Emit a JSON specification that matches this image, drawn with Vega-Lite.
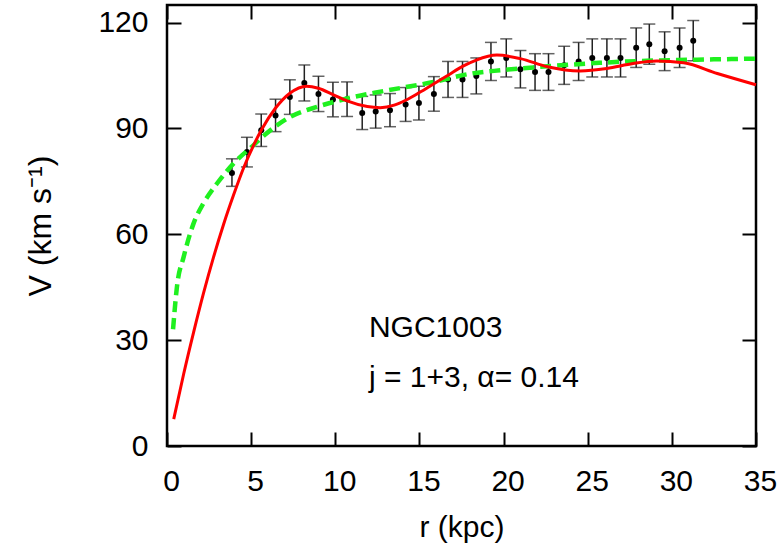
{
  "$schema": "https://vega.github.io/schema/vega-lite/v6.json",
  "width": 589,
  "height": 441,
  "autosize": {"type": "none"},
  "padding": {"left": 167, "top": 5, "right": 26, "bottom": 104},
  "background": "white",
  "config": {
    "view": {"stroke": "black", "strokeWidth": 2.5},
    "font": "Liberation Sans",
    "axis": {
      "grid": false,
      "domain": false,
      "tickColor": "black",
      "tickWidth": 2,
      "tickSize": -14,
      "labelFlush": false,
      "labelFont": "Liberation Sans",
      "labelFontSize": 30,
      "labelColor": "black",
      "titleFont": "Liberation Sans",
      "titleFontSize": 30,
      "titleFontWeight": "normal",
      "titleColor": "black"
    }
  },
  "datasets": {
    "obs": [
      {"r": 3.86, "v": 77.4, "lo": 73.6, "hi": 81.4},
      {"r": 4.75, "v": 83.3, "lo": 79.1, "hi": 87.5},
      {"r": 5.6, "v": 89.5, "lo": 84.9, "hi": 94.1},
      {"r": 6.45, "v": 93.7, "lo": 89.1, "hi": 98.3},
      {"r": 7.3, "v": 98.9, "lo": 94.0, "hi": 103.8},
      {"r": 8.16, "v": 102.9, "lo": 97.8, "hi": 108.0},
      {"r": 9.0, "v": 99.8, "lo": 94.8, "hi": 104.8},
      {"r": 9.86, "v": 98.2, "lo": 93.3, "hi": 103.1},
      {"r": 10.7, "v": 98.3, "lo": 93.4, "hi": 103.2},
      {"r": 11.6, "v": 94.4, "lo": 89.7, "hi": 99.1},
      {"r": 12.4, "v": 94.8, "lo": 90.1, "hi": 99.5},
      {"r": 13.25, "v": 95.2, "lo": 90.5, "hi": 99.9},
      {"r": 14.18, "v": 96.8, "lo": 92.0, "hi": 101.6},
      {"r": 14.97, "v": 97.2, "lo": 92.4, "hi": 102.0},
      {"r": 15.86, "v": 99.8, "lo": 94.9, "hi": 104.7},
      {"r": 16.7, "v": 103.9, "lo": 98.8, "hi": 109.0},
      {"r": 17.56, "v": 103.9, "lo": 98.8, "hi": 109.0},
      {"r": 18.38, "v": 104.9, "lo": 99.8, "hi": 110.0},
      {"r": 19.25, "v": 109.0, "lo": 103.6, "hi": 114.4},
      {"r": 20.16, "v": 110.0, "lo": 104.6, "hi": 115.4},
      {"r": 21.0, "v": 106.8, "lo": 101.5, "hi": 112.1},
      {"r": 21.87, "v": 106.0, "lo": 100.8, "hi": 111.2},
      {"r": 22.67, "v": 106.0, "lo": 100.8, "hi": 111.2},
      {"r": 23.6, "v": 107.9, "lo": 102.5, "hi": 113.3},
      {"r": 24.46, "v": 109.0, "lo": 103.6, "hi": 114.4},
      {"r": 25.27, "v": 110.0, "lo": 104.6, "hi": 115.4},
      {"r": 26.14, "v": 110.0, "lo": 104.6, "hi": 115.4},
      {"r": 26.95, "v": 110.0, "lo": 104.6, "hi": 115.4},
      {"r": 27.88, "v": 112.9, "lo": 107.3, "hi": 118.5},
      {"r": 28.66, "v": 113.9, "lo": 108.2, "hi": 119.6},
      {"r": 29.57, "v": 111.9, "lo": 106.4, "hi": 117.4},
      {"r": 30.46, "v": 112.9, "lo": 107.3, "hi": 118.5},
      {"r": 31.27, "v": 114.9, "lo": 109.2, "hi": 120.6}
    ],
    "fit": [
      {"r": 0.4, "v": 7.6}, {"r": 0.99, "v": 20.4}, {"r": 1.58, "v": 32.2},
      {"r": 2.17, "v": 43.3}, {"r": 2.77, "v": 53.6}, {"r": 3.36, "v": 62.8},
      {"r": 3.96, "v": 71.2}, {"r": 4.55, "v": 78.8}, {"r": 5.15, "v": 85.3},
      {"r": 5.6, "v": 89.5}, {"r": 6.45, "v": 95.8}, {"r": 7.3, "v": 100.0},
      {"r": 8.3, "v": 102.0}, {"r": 9.0, "v": 101.4}, {"r": 9.86, "v": 99.6},
      {"r": 10.7, "v": 97.8}, {"r": 11.9, "v": 96.2}, {"r": 12.67, "v": 95.9},
      {"r": 13.5, "v": 96.6}, {"r": 14.18, "v": 98.0}, {"r": 15.0, "v": 100.2},
      {"r": 15.86, "v": 102.7}, {"r": 16.7, "v": 105.1}, {"r": 17.56, "v": 107.6},
      {"r": 18.38, "v": 109.4}, {"r": 19.6, "v": 110.8}, {"r": 21.0, "v": 109.8},
      {"r": 22.6, "v": 107.5}, {"r": 24.56, "v": 106.3}, {"r": 26.14, "v": 107.0},
      {"r": 27.7, "v": 108.4}, {"r": 29.1, "v": 109.1}, {"r": 30.7, "v": 108.6},
      {"r": 32.7, "v": 105.6}, {"r": 35.0, "v": 102.4}
    ],
    "ref": [
      {"r": 0.36, "v": 33.1}, {"r": 0.59, "v": 45.1}, {"r": 0.99, "v": 53.6},
      {"r": 1.58, "v": 63.1}, {"r": 2.17, "v": 68.8}, {"r": 2.97, "v": 74.4},
      {"r": 3.96, "v": 80.1}, {"r": 5.15, "v": 85.3}, {"r": 5.6, "v": 87.3},
      {"r": 7.33, "v": 93.3}, {"r": 8.9, "v": 96.1}, {"r": 10.7, "v": 98.5},
      {"r": 12.87, "v": 100.6}, {"r": 15.86, "v": 103.2}, {"r": 18.0, "v": 105.5},
      {"r": 19.8, "v": 106.5}, {"r": 22.0, "v": 107.4}, {"r": 25.7, "v": 108.6},
      {"r": 28.5, "v": 109.2}, {"r": 31.5, "v": 109.5}, {"r": 35.0, "v": 109.8}
    ],
    "labels": [
      {"r": 12, "v": 33.4, "t": "NGC1003"},
      {"r": 12, "v": 19.3, "t": "j = 1+3, α= 0.14"}
    ]
  },
  "layer": [
    {
      "data": {"name": "obs"},
      "mark": {"type": "rule", "color": "#222222", "strokeWidth": 1.5},
      "encoding": {
        "x": {"field": "r", "type": "quantitative", "scale": {"domain": [0, 35], "nice": false, "zero": false}, "axis": null},
        "y": {"field": "lo", "type": "quantitative", "scale": {"domain": [0, 125], "nice": false}, "axis": null},
        "y2": {"field": "hi"}
      }
    },
    {
      "data": {"name": "obs"},
      "mark": {"type": "tick", "orient": "horizontal", "color": "#222222", "size": 12, "thickness": 1.5},
      "encoding": {
        "x": {"field": "r", "type": "quantitative", "axis": null},
        "y": {"field": "lo", "type": "quantitative", "axis": null}
      }
    },
    {
      "data": {"name": "obs"},
      "mark": {"type": "tick", "orient": "horizontal", "color": "#222222", "size": 12, "thickness": 1.5},
      "encoding": {
        "x": {"field": "r", "type": "quantitative", "axis": null},
        "y": {"field": "hi", "type": "quantitative", "axis": null}
      }
    },
    {
      "data": {"name": "obs"},
      "mark": {"type": "point", "filled": true, "color": "black", "size": 36, "opacity": 1},
      "encoding": {
        "x": {"field": "r", "type": "quantitative", "axis": null},
        "y": {"field": "v", "type": "quantitative", "axis": null}
      }
    },
    {
      "data": {"name": "ref"},
      "mark": {"type": "line", "color": "#1ff01f", "strokeWidth": 4.5, "strokeDash": [11, 6], "interpolate": "monotone"},
      "encoding": {
        "x": {"field": "r", "type": "quantitative", "axis": {"orient": "top", "labels": false, "title": null, "values": [0, 5, 10, 15, 20, 25, 30, 35]}},
        "y": {"field": "v", "type": "quantitative", "axis": {"orient": "right", "labels": false, "title": null, "values": [0, 30, 60, 90, 120]}}
      }
    },
    {
      "data": {"name": "fit"},
      "mark": {"type": "line", "color": "#ff0000", "strokeWidth": 3, "interpolate": "monotone"},
      "encoding": {
        "x": {"field": "r", "type": "quantitative", "axis": {"orient": "bottom", "title": "r (kpc)", "values": [0, 5, 10, 15, 20, 25, 30, 35], "labelPadding": 34, "labelOffset": 4, "titlePadding": 16}},
        "y": {"field": "v", "type": "quantitative", "axis": {"orient": "left", "title": "V (km s⁻¹)", "titleFontSize": 32, "values": [0, 30, 60, 90, 120], "labelPadding": 33, "titlePadding": 40}}
      }
    },
    {
      "data": {"name": "labels"},
      "mark": {"type": "text", "align": "left", "baseline": "middle", "fontSize": 30, "font": "Liberation Sans", "color": "black"},
      "encoding": {
        "x": {"field": "r", "type": "quantitative", "axis": null},
        "y": {"field": "v", "type": "quantitative", "axis": null},
        "text": {"field": "t"}
      }
    }
  ],
  "resolve": {"axis": {"x": "independent", "y": "independent"}}
}
